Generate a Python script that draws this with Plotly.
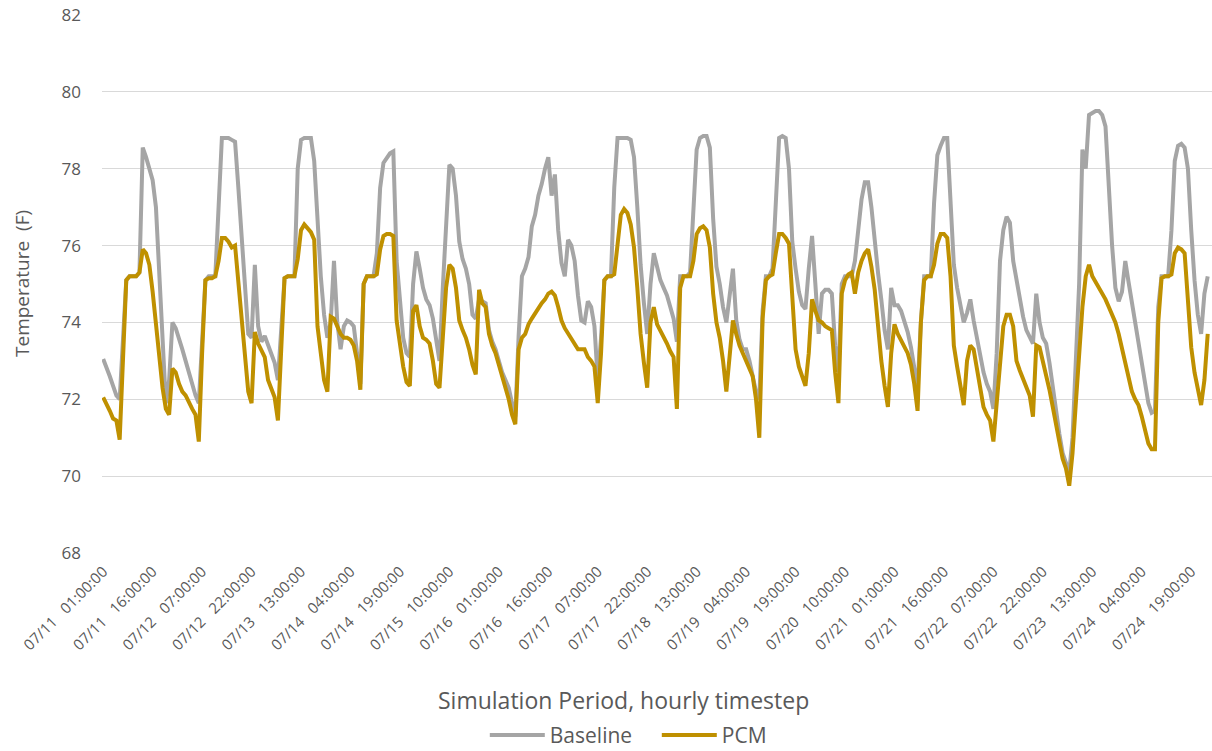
import pandas as pd
import plotly.graph_objects as go

# Hourly zone air temperature, 07/11 01:00 through 07/25 00:00
timestamps = pd.date_range("2021-07-11 01:00", periods=336, freq="h").strftime("%m/%d %H:%M:%S").tolist()

baseline = [
    # 07/11
    73.05, 72.85, 72.6, 72.35, 72.1, 72.0, 73.5, 75.1, 75.2, 75.2, 75.2, 75.3,
    78.55, 78.3, 78.0, 77.7, 77.0, 75.3, 73.6, 71.9, 72.5, 74.0, 73.85, 73.6,
    # 07/12
    73.3, 73.0, 72.7, 72.4, 72.1, 71.9, 73.5, 75.1, 75.2, 75.2, 75.2, 77.0,
    78.8, 78.8, 78.8, 78.75, 78.7, 77.5, 76.2, 74.9, 73.7, 73.6, 75.5, 73.9,
    # 07/13
    73.5, 73.65, 73.4, 73.2, 72.95, 72.5, 73.8, 75.15, 75.2, 75.2, 75.2, 78.0,
    78.75, 78.8, 78.8, 78.8, 78.2, 76.5, 75.2, 74.2, 73.6, 74.0, 75.6, 74.0,
    # 07/14
    73.3, 73.9, 74.05, 74.0, 73.9, 73.2, 72.4, 75.0, 75.2, 75.2, 75.2, 75.8,
    77.5, 78.15, 78.3, 78.4, 78.45, 75.6, 74.6, 73.6, 73.2, 73.1, 75.0, 75.85,
    # 07/15
    75.4, 74.9, 74.6, 74.45, 74.1, 73.6, 73.0, 74.9, 76.7, 78.1, 78.0, 77.3,
    76.1, 75.65, 75.4, 75.0, 74.2, 74.1, 74.6, 74.55, 74.5, 73.8, 73.5, 73.3,
    # 07/16
    73.0, 72.7, 72.5, 72.3, 71.9, 71.55, 73.65, 75.2, 75.4, 75.7, 76.5, 76.8,
    77.3, 77.6, 78.0, 78.3, 77.3, 77.85, 76.4, 75.55, 75.2, 76.15, 76.0, 75.6,
    # 07/17
    74.7, 74.05, 74.0, 74.55, 74.4, 73.9, 72.5, 73.6, 75.1, 75.2, 75.2, 77.5,
    78.8, 78.8, 78.8, 78.8, 78.75, 78.3, 77.0, 75.5, 74.5, 73.7, 75.0, 75.8,
    # 07/18
    75.45, 75.1, 74.9, 74.7, 74.4, 74.1, 73.5, 75.2, 75.2, 75.2, 75.3, 77.1,
    78.5, 78.8, 78.85, 78.85, 78.55, 76.7, 75.45, 75.0, 74.4, 74.0, 74.65, 75.4,
    # 07/19
    74.06, 73.55, 73.3, 73.3, 73.0, 72.6, 72.2, 72.0, 74.3, 75.2, 75.2, 75.4,
    77.1, 78.8, 78.85, 78.8, 78.0, 76.1, 75.4, 74.8, 74.45, 74.35, 75.4, 76.25,
    # 07/20
    75.0, 73.7, 74.75, 74.85, 74.85, 74.75, 73.4, 72.7, 75.0, 75.2, 75.2, 75.2,
    75.6, 76.5, 77.2, 77.65, 77.65, 77.0, 76.1, 75.3, 74.6, 73.8, 73.3, 74.9,
    # 07/21
    74.45, 74.45, 74.3, 74.06, 73.75, 73.35, 72.85, 72.3, 74.0, 75.2, 75.2, 75.2,
    77.1, 78.35, 78.6, 78.8, 78.8, 77.1, 75.5, 74.9, 74.4, 74.0, 74.25, 74.6,
    # 07/22
    74.05, 73.55, 73.1, 72.7, 72.4, 72.2, 71.75, 73.2, 75.6, 76.4, 76.75, 76.6,
    75.6, 75.1, 74.65, 74.15, 73.8, 73.6, 73.45, 74.75, 74.0, 73.6, 73.45, 72.95,
    # 07/23
    72.35, 71.6, 71.1, 70.6, 70.35, 70.1, 71.0, 72.8, 75.0, 78.5, 78.0, 79.4,
    79.45, 79.5, 79.5, 79.4, 79.1, 77.3, 76.0, 74.9, 74.55, 74.8, 75.6, 75.05,
    # 07/24
    74.5, 74.0, 73.5, 73.0, 72.35, 71.9, 71.65, 71.7, 74.4, 75.2, 75.2, 75.2,
    76.4, 78.2, 78.6, 78.65, 78.55, 78.0, 76.4, 75.1, 74.2, 73.7, 74.75, 75.2,
]

pcm = [
    # 07/11
    72.05, 71.9, 71.7, 71.5, 71.45, 70.95, 73.2, 75.1, 75.2, 75.2, 75.2, 75.3,
    75.9, 75.8, 75.5, 74.8, 74.0, 73.15, 72.3, 71.75, 71.6, 72.8, 72.7, 72.4,
    # 07/12
    72.2, 72.1, 71.9, 71.75, 71.6, 70.9, 73.2, 75.1, 75.15, 75.15, 75.2, 75.6,
    76.2, 76.2, 76.1, 75.95, 76.0, 75.0, 74.1, 73.1, 72.2, 71.9, 73.75, 73.45,
    # 07/13
    73.3, 73.1, 72.5, 72.3, 72.05, 71.45, 73.2, 75.15, 75.2, 75.2, 75.2, 75.65,
    76.4, 76.55, 76.45, 76.35, 76.15, 73.9, 73.2, 72.5, 72.2, 74.15, 74.1, 73.9,
    # 07/14
    73.7, 73.6, 73.6, 73.55, 73.4, 73.0, 72.25, 75.0, 75.2, 75.2, 75.2, 75.25,
    75.9, 76.25, 76.3, 76.3, 76.25, 74.05, 73.4, 72.85, 72.45, 72.35, 74.3, 74.45,
    # 07/15
    73.9, 73.6, 73.55, 73.45, 73.0, 72.4, 72.3, 73.5, 74.9, 75.5, 75.4, 74.9,
    74.05, 73.8, 73.6, 73.3, 72.9, 72.65, 74.85, 74.5, 74.4, 73.7, 73.4, 73.2,
    # 07/16
    72.9, 72.6, 72.35, 72.0, 71.6, 71.35, 73.3, 73.6, 73.7, 73.95, 74.1, 74.25,
    74.4, 74.5, 74.6, 74.75, 74.8, 74.7, 74.4, 74.05, 73.85, 73.7, 73.55, 73.45,
    # 07/17
    73.3, 73.3, 73.3, 73.1, 73.0, 72.85, 71.9, 73.2, 75.1, 75.2, 75.2, 75.25,
    75.95, 76.8, 76.95, 76.85, 76.55, 75.95, 74.9, 73.7, 72.95, 72.3, 74.0, 74.4,
    # 07/18
    73.95, 73.8, 73.6, 73.45, 73.25, 73.1, 71.75, 74.9, 75.2, 75.2, 75.2, 75.6,
    76.3, 76.45, 76.5, 76.4, 75.95, 74.75, 74.0, 73.6, 73.0, 72.2, 73.2, 74.05,
    # 07/19
    73.7, 73.4, 73.2, 73.0, 72.85, 72.6, 72.0, 71.0, 74.1, 75.1, 75.2, 75.25,
    75.8, 76.3, 76.3, 76.2, 76.05, 74.6, 73.3, 72.85, 72.6, 72.35, 73.2, 74.6,
    # 07/20
    74.3, 74.05, 74.0, 73.9, 73.85, 73.8, 72.7, 71.9, 74.75, 75.1, 75.25, 75.3,
    74.75, 75.3, 75.6, 75.8, 75.9, 75.45, 74.85, 73.9, 73.0, 72.35, 71.8, 73.2,
    # 07/21
    73.95, 73.7, 73.55, 73.4, 73.2, 72.9, 72.4, 71.7, 74.0, 75.1, 75.2, 75.2,
    75.5, 76.05, 76.3, 76.3, 76.2, 75.2, 73.4, 72.85, 72.35, 71.85, 73.0, 73.4,
    # 07/22
    73.3, 72.8, 72.4, 71.8, 71.6, 71.45, 70.9, 72.0, 72.9, 73.9, 74.2, 74.2,
    73.9, 73.0, 72.75, 72.55, 72.35, 72.1, 71.55, 73.4, 73.35, 73.0, 72.65, 72.25,
    # 07/23
    71.8, 71.4, 70.9, 70.45, 70.2, 69.75, 70.6, 71.9, 73.1, 74.4, 75.2, 75.5,
    75.2, 75.05, 74.95, 74.8, 74.6, 74.4, 74.2, 74.0, 73.7, 73.35, 73.0, 72.6,
    # 07/24
    72.2, 72.0, 71.85, 71.55, 71.2, 70.85, 70.7, 70.7, 74.0, 75.15, 75.2, 75.2,
    75.25, 75.8, 75.95, 75.9, 75.8, 74.4, 73.35, 72.7, 72.25, 71.85, 72.5, 73.7,
]

tick_labels = [
    "07/11 01:00:00", "07/11 16:00:00", "07/12 07:00:00", "07/12 22:00:00",
    "07/13 13:00:00", "07/14 04:00:00", "07/14 19:00:00", "07/15 10:00:00",
    "07/16 01:00:00", "07/16 16:00:00", "07/17 07:00:00", "07/17 22:00:00",
    "07/18 13:00:00", "07/19 04:00:00", "07/19 19:00:00", "07/20 10:00:00",
    "07/21 01:00:00", "07/21 16:00:00", "07/22 07:00:00", "07/22 22:00:00",
    "07/23 13:00:00", "07/24 04:00:00", "07/24 19:00:00",
]
y_ticks = [68, 70, 72, 74, 76, 78, 80, 82]

TEXT = "#595959"
GRID = "#d9d9d9"
FONT = "Open Sans"

# every 15th timestamp carries a label
tick_positions = [timestamps[i] for i in range(0, len(timestamps), 15)]
tick_text = [t.replace(" ", "\u00a0\u00a0\u00a0") for t in tick_labels]

fig = go.Figure()
fig.add_trace(go.Scatter(x=timestamps, y=baseline, name="Baseline", mode="lines",
                         line=dict(color="#A5A5A5", width=4)))
fig.add_trace(go.Scatter(x=timestamps, y=pcm, name="PCM", mode="lines",
                         line=dict(color="#BF9000", width=4)))

fig.update_layout(
    width=1212, height=751,
    margin=dict(l=102, r=0, t=15, b=198),
    paper_bgcolor="white", plot_bgcolor="white",
    font=dict(family=FONT, color=TEXT),
    showlegend=True,
    legend=dict(orientation="h", xref="container", yref="container",
                x=0.40, y=0.021, xanchor="left", yanchor="middle",
                font=dict(size=21, color=TEXT), itemwidth=55,
                entrywidth=102, entrywidthmode="pixels",
                bgcolor="rgba(0,0,0,0)"),
    annotations=[
        dict(text="Simulation Period, hourly timestep", xref="paper", yref="paper",
             x=(623 - 102) / 1110, y=(553 - 700) / 538, xanchor="center", yanchor="middle",
             showarrow=False, font=dict(size=23, color=TEXT, family=FONT)),
        dict(text="Temperature  (F)", xref="paper", yref="paper",
             x=(22 - 102) / 1110, y=0.5, xanchor="center", yanchor="middle",
             textangle=-90, showarrow=False, font=dict(size=19, color=TEXT, family=FONT)),
    ],
)

fig.update_xaxes(
    type="category", range=[-0.36, 336.3],
    tickmode="array", tickvals=tick_positions, ticktext=tick_text,
    tickangle=-45, tickfont=dict(size=15, color=TEXT),
    showgrid=False, zeroline=False, showline=False, ticks="",
    ticklabelstandoff=6,
)
fig.update_yaxes(
    range=[68, 82], tickmode="array", tickvals=y_ticks,
    tickfont=dict(size=17, color=TEXT),
    showgrid=True, gridcolor=GRID, gridwidth=1,
    zeroline=False, showline=False, ticks="",
    ticklabelstandoff=20,
)

fig.write_html("out.html")
